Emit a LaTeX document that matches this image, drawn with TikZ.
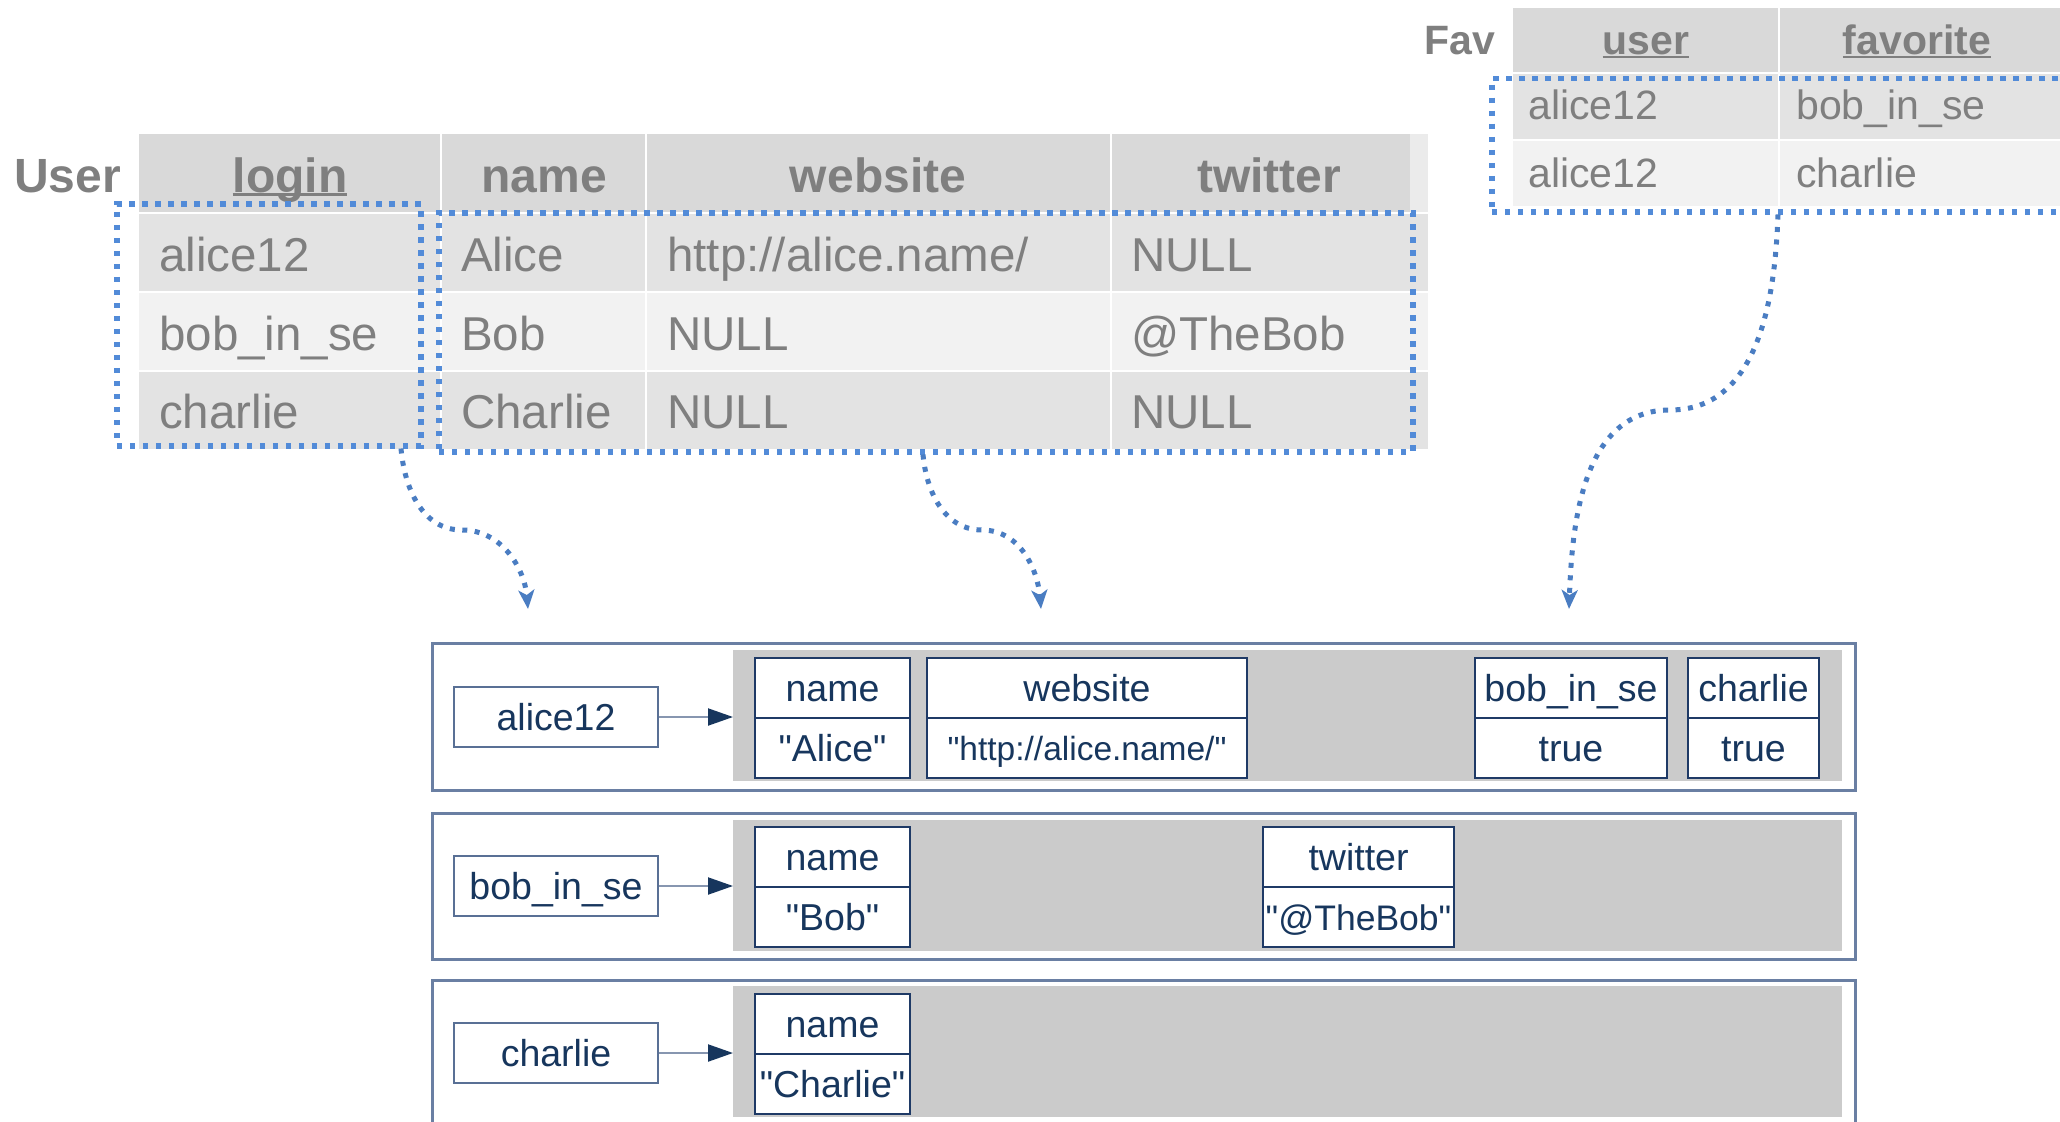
\documentclass[tikz,border=0pt]{standalone}
\usepackage{fontspec}
\setmainfont{Liberation Sans}[Ligatures=TeXOff]
\usetikzlibrary{arrows.meta,calc}

\definecolor{hdrgray}{HTML}{D9D9D9}
\definecolor{rowdark}{HTML}{E3E3E3}
\definecolor{rowlight}{HTML}{F2F2F2}
\definecolor{stripgray}{HTML}{EBEBEB}
\definecolor{tabletext}{HTML}{7F7F7F}
\definecolor{selblue}{HTML}{528BD8}
\definecolor{linkblue}{HTML}{4A7DC2}
\definecolor{navy}{HTML}{17365D}
\definecolor{cellline}{HTML}{1F3A66}
\definecolor{frameline}{HTML}{6A7FA3}
\definecolor{arrowline}{HTML}{8796B0}
\definecolor{cellgray}{HTML}{CBCBCB}

% font sizes (1pt = 1 drawing unit)
\newcommand\ubold{\fontsize{48}{56}\selectfont\bfseries}
\newcommand\ureg{\fontsize{47.5}{56}\selectfont}
\newcommand\fbold{\fontsize{41}{48}\selectfont\bfseries}
\newcommand\freg{\fontsize{41}{48}\selectfont}
\newcommand\cellfont{\fontsize{37.5}{44}\selectfont}
\newcommand\urlfont{\fontsize{33.5}{40}\selectfont}
\newcommand\tightfont{\fontsize{35.5}{42}\selectfont}
% straight double quote
\newcommand\qt{\symbol{34}}
% thick underline for key columns
\newcommand\ulkey[1]{\setbox0=\hbox{#1}\rlap{\rule[-0.08em]{\wd0}{0.065em}}\box0}

\begin{document}
\begin{tikzpicture}[x=1pt,y=-1pt,
  uhead/.style={font=\ubold, text=tabletext, anchor=base, inner sep=0},
  ucell/.style={font=\ureg, text=tabletext, anchor=base west, inner sep=0},
  fhead/.style={font=\fbold, text=tabletext, anchor=base, inner sep=0},
  fcell/.style={font=\freg, text=tabletext, anchor=base west, inner sep=0},
  sepline/.style={draw=white, line width=2pt},
  selbox/.style={draw=selblue, line width=5.5pt, dash pattern=on 5.5pt off 7.5pt,
    anchor=north west, inner sep=0, fill=none},
  link/.style={draw=linkblue, line width=5pt, dash pattern=on 5pt off 7.5pt,
    -{Stealth[length=19pt,width=16pt,inset=5pt]}},
  frame/.style={draw=frameline, line width=2.5pt, fill=white, anchor=north west,
    inner sep=0, minimum width=1423pt},
  graybox/.style={fill=cellgray, anchor=north west, inner sep=0,
    minimum width=1109pt, minimum height=131pt},
  keybox/.style={draw=frameline!80!navy, line width=2pt, fill=white, text=navy,
    font=\cellfont, anchor=north west, inner sep=0, minimum width=204pt,
    minimum height=60pt, text height=27pt, text depth=0pt},
  cell/.style={draw=cellline, line width=2pt, fill=white, text=navy,
    font=\cellfont, anchor=north west, inner sep=0, minimum height=60pt,
    text height=27pt, text depth=0pt},
  keylink/.style={draw=arrowline, line width=2pt,
    -{Triangle[length=25pt,width=17pt,color=navy]}}
]
\path[use as bounding box] (0,0) rectangle (2060,1121);
\clip (0,0) rectangle (2060,1121);
\fill[white] (0,0) rectangle (2060,1121);

% ---------- User table ----------
\fill[hdrgray] (139,134) rectangle (1410,213);
\fill[stripgray] (1410,134) rectangle (1428,213);
\fill[rowdark] (139,213) rectangle (1428,292);
\fill[rowlight] (139,292) rectangle (1428,371);
\fill[rowdark] (139,371) rectangle (1428,449);
\foreach \cx in {441,646,1111} \draw[sepline] (\cx,134) -- (\cx,449);
\foreach \ry in {213,292,371} \draw[sepline] (139,\ry) -- (1428,\ry);

\node[font=\ubold, text=tabletext, anchor=base east, inner sep=0] (userlabel) at (121,192) {User};
\node[uhead] (uh1) at (290,192) {\ulkey{login}};
\node[uhead] (uh2) at (544,192) {name};
\node[uhead] (uh3) at (878,192) {website};
\node[uhead] (uh4) at (1269,192) {twitter};

\node[ucell] (u11) at (159,271) {alice12};
\node[ucell] (u12) at (461,271) {Alice};
\node[ucell] (u13) at (667,271) {http://alice.name/};
\node[ucell] (u14) at (1131,271) {NULL};
\node[ucell] (u21) at (159,350) {bob\_in\_se};
\node[ucell] (u22) at (461,350) {Bob};
\node[ucell] (u23) at (667,350) {NULL};
\node[ucell] (u24) at (1131,350) {@TheBob};
\node[ucell] (u31) at (159,428) {charlie};
\node[ucell] (u32) at (461,428) {Charlie};
\node[ucell] (u33) at (667,428) {NULL};
\node[ucell] (u34) at (1131,428) {NULL};

% ---------- Fav table ----------
\fill[hdrgray] (1513,8) rectangle (2070,73);
\fill[rowdark] (1513,73) rectangle (2070,140);
\fill[rowlight] (1513,140) rectangle (2070,206);
\draw[sepline] (1779,8) -- (1779,206);
\draw[sepline] (1513,73) -- (2070,73);
\draw[sepline] (1513,140) -- (2070,140);

\node[font=\fbold, text=tabletext, anchor=base east, inner sep=0] (favlabel) at (1495,55) {Fav};
\node[fhead] (fh1) at (1646,55) {\ulkey{user}};
\node[fhead] (fh2) at (1917,55) {\ulkey{favorite}};
\node[fcell] (f11) at (1528,120) {alice12};
\node[fcell] (f12) at (1796,120) {bob\_in\_se};
\node[fcell] (f21) at (1528,187) {alice12};
\node[fcell] (f22) at (1796,187) {charlie};

% ---------- selections ----------
\node[selbox, minimum width=304pt, minimum height=242pt] (selLogin) at (114,201) {};
\node[selbox, minimum width=974pt, minimum height=239pt] (selData) at (436,210) {};
\node[selbox, minimum width=600pt, minimum height=133pt] (selFav) at (1489,76) {};

\coordinate (m1) at (462,530);
\coordinate (t1) at (528,609);
\coordinate (m2) at (982,530);
\coordinate (t2) at (1041,609);
\coordinate (m3) at (1670,410);
\coordinate (t3) at (1569,609);

\draw[link] ($(selLogin.south west)+(287,0)$) to[out=-85,in=180] (m1) to[out=0,in=95] (t1);
\draw[link] ($(selData.south west)+(487,0)$) to[out=-85,in=180] (m2) to[out=0,in=95] (t2);
\draw[link] ($(selFav.south west)+(289,0)$) to[out=-92,in=0] (m3) to[out=180,in=88] (t3);

% ---------- row alice12 ----------
\node[frame, minimum height=147pt] (r1) at (431,642) {};
\node[graybox] (g1) at (733,650) {};
\node[keybox] (k1) at (453,686) {alice12};
\node[cell, minimum width=155pt] (a1n) at (754,657) {name};
\node[cell, minimum width=155pt] (a1v) at (754,717) {\qt Alice\qt};
\node[cell, minimum width=320pt] (a2n) at (926,657) {website};
\node[cell, minimum width=320pt, font=\urlfont, text height=24pt] (a2v) at (926,717) {\qt http://alice.name/\qt};
\node[cell, minimum width=192pt] (a3n) at (1474,657) {bob\_in\_se};
\node[cell, minimum width=192pt] (a3v) at (1474,717) {true};
\node[cell, minimum width=131pt] (a4n) at (1687,657) {charlie};
\node[cell, minimum width=131pt] (a4v) at (1687,717) {true};
\draw[keylink] (k1.east) -- (k1.east -| g1.west);

% ---------- row bob_in_se ----------
\node[frame, minimum height=146pt] (r2) at (431,812) {};
\node[graybox] (g2) at (733,820) {};
\node[keybox] (k2) at (453,855) {bob\_in\_se};
\node[cell, minimum width=155pt] (b1n) at (754,826) {name};
\node[cell, minimum width=155pt] (b1v) at (754,886) {\qt Bob\qt};
\node[cell, minimum width=191pt] (b2n) at (1262,826) {twitter};
\node[cell, minimum width=191pt, font=\tightfont, text height=26pt] (b2v) at (1262,886) {\qt @TheBob\qt};
\draw[keylink] (k2.east) -- (k2.east -| g2.west);

% ---------- row charlie ----------
\node[frame, minimum height=170pt] (r3) at (431,979) {};
\node[graybox] (g3) at (733,986) {};
\node[keybox] (k3) at (453,1022) {charlie};
\node[cell, minimum width=155pt] (c1n) at (754,993) {name};
\node[cell, minimum width=155pt] (c1v) at (754,1053) {\qt Charlie\qt};
\draw[keylink] (k3.east) -- (k3.east -| g3.west);
\end{tikzpicture}
\end{document}
